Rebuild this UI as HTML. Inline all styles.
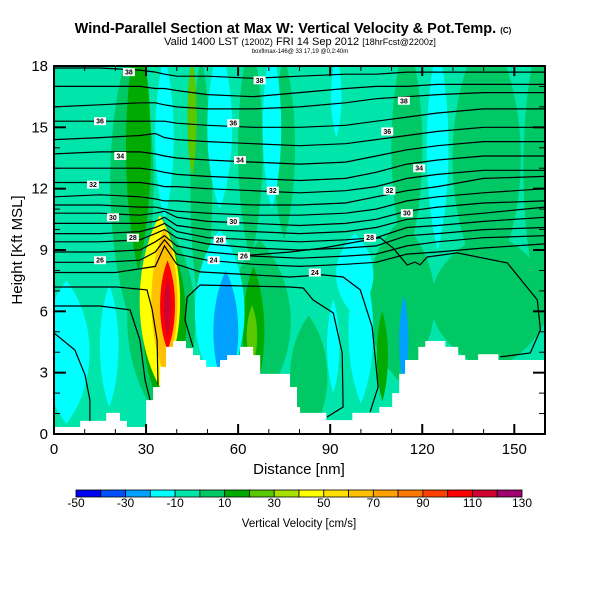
<!DOCTYPE html>
<html><head><meta charset="utf-8">
<style>
html,body{margin:0;padding:0;background:#fff;}
svg{display:block;font-family:"Liberation Sans",sans-serif;}
</style></head>
<body>
<svg id="chart" width="600" height="600" viewBox="0 0 600 600">
<defs><clipPath id="pc"><rect x="54" y="66" width="491" height="368"/></clipPath></defs>
<text x="293" y="33" text-anchor="middle" font-size="14.5" font-weight="bold">Wind-Parallel Section at Max W: Vertical Velocity &amp; Pot.Temp. <tspan font-size="8">(C)</tspan></text>
<text x="300" y="45" text-anchor="middle" font-size="11">Valid 1400 LST <tspan font-size="9">(1200Z)</tspan> FRI 14 Sep 2012 <tspan font-size="9">[18hrFcst@2200z]</tspan></text>
<text x="300" y="53" text-anchor="middle" font-size="6">boxflmax-146@ 33 17,19 @0,2:40m</text>
<g id="field" clip-path="url(#pc)"></g>
<g id="axes"></g>
<g id="cbar"></g>
</svg>
<script>
// ---- data ----
const blobD  = [25.4,35,48,64,75,115,141,158,142,113,67,83, 27.5,45,36,107,65,64.5, 4,18,36,54,71,92,125,54,98,100,91, 56,114, 34.5,36,37,37];
const blobH  = [12.3,5.6,12,14,14,14,13.5,13,6.5,6.5,5.5,2.8, 14,15.5,5.5,3.8,5,4.8, 4,4.3,14.5,15,15,16.5,14,6,7.8,5,4.3, 5,4.5, 6.5,6.5,6.3,6.2];
const blobRD = [7,11,3.5,4,3.5,5,11,5,19,11,10,6, 4,1.5,7,1.8,3.5,1.7, 7.5,3,3,4,3,1.7,3.5,8,6,4,2, 4,1.5, 6.5,4.2,2.4,1.1];
const blobRH = [7,5,6.5,5.5,4.5,5.5,6.5,6.5,3.5,4,4,3, 6,3,4.5,2.2,3.2,1.5, 3.5,3,4,4,4,2,5,4,2,3.5,2.3, 3,2.3, 4.2,3.6,2.2,1.4];
const blobV  = [5,5,5,5,5,5,5,5,5,5,5,5, 15,25,15,15,15,25, -15,-15,-15,-15,-15,-15,-15,-15,-15,-15,-15, -25,-25, 45,65,105,115];

const terrD = [0,8.5,17,21.5,23.8,30,32.3,34.6,36.5,38.8,43,45.3,47.6,49.6,54.1,56.4,60.6,64.9,67.2,76.9,79.2,80.2,88.7,97.2,106,110.2,112.5,114.4,118.7,121,127.5,131.7,134,138.2,144.8,160];
const terrH = [0.34,0.64,1.03,0.64,0.34,1.66,2.3,3.28,4.26,4.55,4.2,3.86,3.62,3.28,3.62,3.86,4.26,3.86,2.94,2.3,1.32,1.03,0.68,1.03,1.32,2.0,2.94,3.62,4.26,4.55,4.26,3.86,3.62,3.9,3.62];

const thetaD = [0,15,28,33,36,40,50,65,80,95,105,115,125,140,160];
const thetaLines = [
[17.9,17.9,17.8,17.7,17.6,17.5,17.5,17.4,17.5,17.6,17.6,17.7,17.7,17.7,17.7],
[17.0,17.0,17.0,16.9,16.9,16.8,16.6,16.5,16.7,16.9,17.0,17.0,17.1,17.1,17.1],
[16.0,16.1,16.2,16.2,16.1,16.0,15.9,15.9,16.0,16.2,16.4,16.5,16.6,16.7,16.7],
[15.3,15.3,15.3,15.3,15.3,15.2,15.1,15.0,15.0,15.1,15.3,15.5,15.7,15.9,15.9],
[14.4,14.5,14.6,14.7,14.5,14.4,14.3,14.2,14.1,14.2,14.4,14.6,14.8,15.0,15.0],
[13.7,13.8,13.8,13.7,13.6,13.5,13.4,13.3,13.2,13.3,13.6,13.9,14.1,14.3,14.3],
[13.0,13.0,13.0,12.9,12.8,12.7,12.6,12.5,12.4,12.5,12.8,13.2,13.4,13.6,13.6],
[12.3,12.3,12.3,12.2,12.1,12.1,12.0,11.9,11.8,11.9,12.1,12.5,12.7,12.9,12.9],
[11.6,11.7,11.6,11.5,11.4,11.4,11.3,11.2,11.2,11.3,11.6,11.9,12.1,12.5,12.6],
[11.2,11.2,11.1,11.1,11.0,10.9,10.8,10.7,10.7,10.8,11.0,11.4,11.6,11.8,12.0],
[10.8,10.8,10.7,10.8,10.9,10.6,10.4,10.3,10.2,10.3,10.5,10.9,11.1,11.3,11.4],
[10.3,10.3,10.3,10.4,10.6,10.2,10.0,9.9,9.8,9.9,10.1,10.5,10.6,10.8,11.1],
[9.8,9.8,9.9,10.1,10.3,9.9,9.6,9.5,9.4,9.5,9.6,10.1,10.2,10.4,10.6],
[9.4,9.4,9.5,9.8,10.0,9.6,9.3,9.1,9.0,9.1,9.2,9.7,9.8,10.0,10.1],
[8.9,8.9,9.0,9.4,9.7,9.2,8.9,8.7,8.6,8.7,8.8,9.2,9.4,9.6,9.7],
[8.4,8.4,8.5,8.9,9.5,8.8,8.5,8.3,8.2,8.3,8.4,8.8,8.9,9.1,9.3]
];
const lowD = [
[0,6.8,10.1,11.7,11.7],
[0,15,24.8,28,29.7,31.3],
[0,20.5,30.3,32,33.6,33.9],
[45.3,42.7,43.4,47.6,76.9,81.2,84.4,91,93.9,94.2,89],
[0,20,33,36,40,47.6,76.9,87.7,94.2,99.8,103.7,105.6,103],
[60,76.9,87.7,106.3,110.5,115.1,117.7,119.3,121.6,131.4,147.7,157.5,158.5,155.2,145.4]
];
const lowH = [
[4.94,4.11,2.89,1.66,0.44],
[6.26,6.26,6.07,4.6,2.64,1.66],
[7.19,7.19,7.05,6.07,4.6,2.4],
[4.26,5.58,6.7,7.29,7.19,7.14,6.56,5.92,3.96,1.32,0.83],
[7.9,7.9,8.2,9.2,8.3,7.93,7.68,7.78,7.68,7.05,5.23,2.3,1.08],
[8.7,8.9,9.1,9.6,9.1,8.27,8.41,8.27,8.66,8.86,8.37,6.56,5.09,3.96,3.77]
];
const labelD = [24.4,15,21.6,12.7,19.2,25.7,15, 67,58.4,60.6,71.3,58.4,54,52,61.9, 114,108.6,119,109.3,115,103,85];
const labelH = [17.7,15.3,13.6,12.2,10.6,9.6,8.5, 17.3,15.2,13.4,11.9,10.4,9.5,8.5,8.7, 16.3,14.8,13,11.9,10.8,9.6,7.9];
const labelT = ["38","36","34","32","30","28","26", "38","36","34","32","30","28","24","26", "38","36","34","32","30","28","24"];

const xTicks = [0,30,60,90,120,150];
const yTicks = [0,3,6,9,12,15,18];
const cbarVals = [-50,-30,-10,10,30,50,70,90,110,130];
const cbarColors = ["#0000f0","#0050ff","#00a0ff","#00ffff","#00e6aa","#00c864","#00aa00","#5ac800","#a8e000","#ffff00","#ffe000","#ffc000","#ffa000","#ff7800","#ff4000","#ff0000","#d00030","#a00070"];

// ---- scales ----
const X = d => 54 + d * (491/160);
const Y = h => 434 - h * (368/18);
const color = v => cbarColors[Math.max(0,Math.min(17,Math.floor((v+50)/10)))];
const NS = "http://www.w3.org/2000/svg";
function mk(tag, attrs, parent){const e=document.createElementNS(NS,tag);for(const k in attrs)e.setAttribute(k,attrs[k]);parent.appendChild(e);return e;}

const field = document.getElementById('field');
const bg = mk('rect',{x:54,y:66,width:491,height:368,fill:color(-5)},field);


for(let i=0;i<blobD.length;i++){
  const cx=X(blobD[i]), cy=Y(blobH[i]), rx=blobRD[i]*491/160, ry=blobRH[i]*368/18;
  const t=cy-ry, b=cy+ry;
  const d='M'+cx+','+t+' C'+(cx+rx*1.35)+','+(cy-ry*0.45)+' '+(cx+rx*1.35)+','+(cy+ry*0.45)+' '+cx+','+b+
          ' C'+(cx-rx*1.35)+','+(cy+ry*0.45)+' '+(cx-rx*1.35)+','+(cy-ry*0.45)+' '+cx+','+t+' Z';
  const e = mk('path',{d:d,fill:color(blobV[i])},field);
  
  
}
function pathFrom(ds,hs){return ds.map((d,i)=>(i?'L':'M')+X(d).toFixed(1)+','+Y(hs[i]).toFixed(1)).join(' ');}
thetaLines.forEach(hs=>{
  const p = mk('path',{d:pathFrom(thetaD,hs),fill:'none',stroke:'#000','stroke-width':1.2},field);
  
  
});
lowD.forEach((ds,i)=>{
  const p = mk('path',{d:pathFrom(ds,lowH[i]),fill:'none',stroke:'#000','stroke-width':1.2},field);
  
  
});
labelD.forEach((d,i)=>{
  const g = mk('g',{},field);
  
  
  mk('rect',{x:X(d)-6,y:Y(labelH[i])-4,width:12,height:8,fill:'#fff'},g);
  const t = mk('text',{x:X(d),y:Y(labelH[i])+2.5,'text-anchor':'middle','font-size':7,'font-weight':'bold'},g);
  t.textContent = labelT[i];
});
// terrain
let tp = 'M'+X(0)+','+Y(0);
for(let i=0;i<terrH.length;i++){tp+=' L'+X(terrD[i]).toFixed(1)+','+Y(terrH[i]).toFixed(1)+' L'+X(terrD[i+1]).toFixed(1)+','+Y(terrH[i]).toFixed(1);}
tp+=' L'+X(160)+','+Y(0)+' Z';
const terr = mk('path',{d:tp,fill:'#fff',stroke:'none'},field);



// axes
const ax = document.getElementById('axes');
const frame = mk('rect',{x:54,y:66,width:491,height:368,fill:'none',stroke:'#000','stroke-width':2},ax);


for(let d=0;d<=160;d+=10){
  const major = xTicks.includes(d);
  const L = major?10:5;
  mk('line',{x1:X(d),x2:X(d),y1:434,y2:434-L,stroke:'#000','stroke-width':major?2:1},ax);
  mk('line',{x1:X(d),x2:X(d),y1:66,y2:66+L,stroke:'#000','stroke-width':major?2:1},ax);
}
for(let h=0;h<=18;h++){
  const major = yTicks.includes(h);
  const L = major?12:6;
  mk('line',{x1:54,x2:54+L,y1:Y(h),y2:Y(h),stroke:'#000','stroke-width':major?2:1},ax);
  mk('line',{x1:545,x2:545-L,y1:Y(h),y2:Y(h),stroke:'#000','stroke-width':major?2:1},ax);
}
xTicks.forEach(d=>{
  const t = mk('text',{x:X(d),y:454,'text-anchor':'middle','font-size':15},ax);
  
  
  t.textContent = d;
});
yTicks.forEach(h=>{
  const t = mk('text',{x:48,y:Y(h)+5,'text-anchor':'end','font-size':15},ax);
  
  
  t.textContent = h;
});
const xt = mk('text',{x:299,y:474,'text-anchor':'middle','font-size':15},ax);


xt.textContent = 'Distance [nm]';
const yt = mk('text',{x:22,y:250,'text-anchor':'middle','font-size':15,transform:'rotate(-90 22 250)'},ax);


yt.textContent = 'Height [Kft MSL]';

// colorbar
const cb = document.getElementById('cbar');
const bw = (522-76)/18;
cbarColors.forEach((c,i)=>{
  const r = mk('rect',{x:76+i*bw,y:490,width:bw,height:7,fill:c,stroke:'#000','stroke-width':0.8},cb);
  
  
});
cbarVals.forEach((v,i)=>{
  const t = mk('text',{x:76+i*2*bw,y:507,'text-anchor':'middle','font-size':12},cb);
  
  
  t.textContent = v;
});
const ct = mk('text',{x:299,y:527,'text-anchor':'middle','font-size':11.5},cb);


ct.textContent = 'Vertical Velocity [cm/s]';
</script>
</body></html>
